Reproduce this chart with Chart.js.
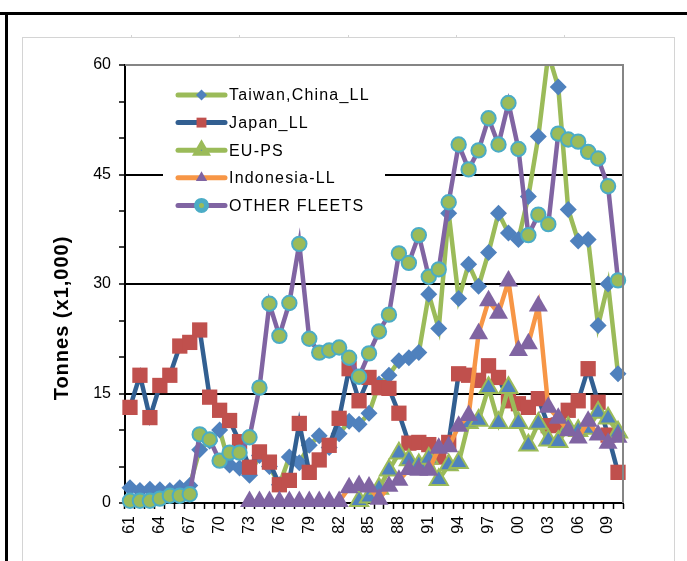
<!DOCTYPE html>
<html><head><meta charset="utf-8">
<script src="https://cdn.jsdelivr.net/npm/chart.js@4.4.1/dist/chart.umd.min.js"></script>
<style>
html,body{margin:0;padding:0;background:#fff;}
#wrap{position:relative;width:687px;height:561px;overflow:hidden;background:#fff;}
#c{position:absolute;left:0;top:0;}
.hl{position:absolute;left:0;top:12px;width:687px;height:3px;background:#000;}
.vl{position:absolute;left:5px;top:12px;width:3px;height:549px;background:#000;}
.box{position:absolute;left:22px;top:37px;width:651px;height:600px;border:1px solid #d4d4d4;}
.tk{position:absolute;top:35px;width:1px;height:2px;background:#d4d4d4;}
</style></head>
<body>
<div id="wrap">
<div class="box"></div>
<div class="tk" style="left:131px"></div><div class="tk" style="left:239px"></div><div class="tk" style="left:348px"></div><div class="tk" style="left:456px"></div><div class="tk" style="left:564px"></div>
<canvas id="c" width="687" height="561"></canvas>
<div class="hl"></div><div class="vl"></div>
</div>
<script>
const years = ['61','62','63','64','65','66','67','68','69','70',
'71','72','73','74','75','76','77','78','79','80',
'81','82','83','84','85','86','87','88','89','90',
'91','92','93','94','95','96','97','98','99','00',
'01','02','03','04','05','06','07','08','09','10'];
const tickLabels = ['61','64','67','70','73','76','79','82','85','88','91','94','97','00','03','06','09'];
const yTickLabels = [0,15,30,45,60];

const taiwanLL = [2.1,1.7,1.9,1.8,1.7,2.1,2.4,7.3,8.5,10.0,
5.2,4.8,3.8,6.5,5.0,2.5,6.3,5.5,7.9,9.2,
7.6,9.5,11.2,10.8,12.3,16.3,17.5,19.5,19.9,20.6,
28.6,23.9,39.7,28.0,32.7,29.7,34.3,39.7,37.0,36.1,
42.0,50.2,61.5,57.0,40.2,35.9,36.1,24.3,30.0,17.7];
const japanLL = [13.1,17.5,11.7,16.1,17.5,21.5,22.0,23.7,14.5,12.7,
11.3,8.4,4.9,7.0,5.6,2.5,3.1,10.9,4.2,5.9,
7.9,11.6,18.4,14.0,17.2,15.8,15.7,12.3,8.2,8.3,
8.0,6.3,8.3,17.7,17.5,16.8,18.8,17.2,14.0,13.6,
13.1,14.3,10.6,10.7,12.7,14.0,18.4,13.8,9.3,4.2];
const euPS = [null,null,null,null,null,null,null,null,null,null,
null,null,null,null,null,null,null,null,null,null,
null,null,null,0.3,0.8,2.0,4.5,6.8,5.9,5.2,
6.1,3.2,5.2,5.5,11.0,11.3,15.8,11.0,15.8,11.0,
7.9,10.9,8.6,8.4,10.3,9.9,10.2,12.4,11.6,9.7];
const indonesiaLL = [null,null,null,null,null,null,null,null,null,null,
null,null,0.2,0.2,0.2,0.2,0.2,0.2,0.2,0.2,
0.2,0.2,2.1,2.4,2.2,0.5,2.3,3.1,4.6,4.5,
4.5,7.5,7.7,10.5,12.0,23.2,27.7,26.0,30.4,20.9,
21.8,27.0,13.1,11.6,9.9,8.9,11.2,9.3,8.2,9.0];
const otherFleets = [0.3,0.3,0.3,0.6,1.0,1.0,1.2,9.4,8.7,5.8,
6.9,6.9,9.0,15.8,27.3,22.9,27.4,35.5,22.5,20.6,
20.9,21.3,19.9,17.3,20.5,23.5,25.8,34.2,32.9,36.7,
31.0,32.0,41.2,49.1,45.7,48.3,52.7,49.1,54.8,48.5,
36.7,39.5,38.2,50.6,49.8,49.5,48.1,47.2,43.4,30.5];

const BLUE='#4F81BD', RED='#C0504D', GREEN='#9BBB59', PURPLE='#8064A2', AQUA='#4BACC6', ORANGE='#F79646', NAVY='#325F91';
const FONT = '"Liberation Sans", Arial, sans-serif';

const series = [
 {label:'Taiwan,China_LL', data:taiwanLL, line:GREEN, style:'rectRot', fill:BLUE, border:BLUE, bw:0, r:8.5, lr:5.5, order:5},
 {label:'Japan_LL', data:japanLL, line:NAVY, style:'rect', fill:RED, border:RED, bw:0, r:10.8, lr:7, order:4},
 {label:'EU-PS', data:euPS, line:GREEN, style:'triangle', fill:BLUE, border:GREEN, bw:2, r:10.5, lr:6, order:3},
 {label:'Indonesia-LL', data:indonesiaLL, line:ORANGE, style:'triangle', fill:PURPLE, border:PURPLE, bw:0, r:11, lr:6.5, order:2},
 {label:'OTHER FLEETS', data:otherFleets, line:PURPLE, style:'circle', fill:GREEN, border:AQUA, bw:2, r:7.2, lr:5, order:1}
];

const datasets = series.map(s => ({
  label:s.label, data:s.data, borderColor:s.line, borderWidth:4.5,
  backgroundColor:s.fill, pointStyle:s.style, pointRadius:s.r, pointHoverRadius:s.r,
  pointBackgroundColor:s.fill, pointBorderColor:s.border, pointBorderWidth:s.bw,
  tension:0, spanGaps:false, order:s.order,
  clip: s.label==='Taiwan,China_LL' ? {left:false, top:0, right:false, bottom:false} : false
}));

const decor = {
  id:'decor',
  afterDatasetsDraw(chart){
    const ctx = chart.ctx, a = chart.chartArea;
    ctx.save();
    ctx.strokeStyle = '#858585'; ctx.lineWidth = 2;
    ctx.beginPath(); ctx.moveTo(a.left, a.top); ctx.lineTo(a.right, a.top); ctx.lineTo(a.right, a.bottom); ctx.stroke();
    // legend
    ctx.fillStyle = '#fff';
    ctx.fillRect(163, 80, 222, 139);
    const x0 = 178, x1 = 225, xm = 201.5;
    series.forEach((s, i) => {
      const y = 95 + i * 27.6;
      ctx.strokeStyle = s.line; ctx.lineWidth = 5; ctx.lineCap = 'round';
      ctx.beginPath(); ctx.moveTo(x0, y); ctx.lineTo(x1, y); ctx.stroke();
      ctx.fillStyle = s.fill; ctx.strokeStyle = s.border;
      Chart.helpers.drawPoint(ctx, {pointStyle:s.style, radius:s.lr, rotation:0, borderWidth:s.bw}, xm, y);
      ctx.fillStyle = '#000';
      ctx.font = '16px ' + FONT;
      ctx.letterSpacing = '1.2px';
      ctx.textAlign = 'left'; ctx.textBaseline = 'middle';
      ctx.fillText(s.label, 229, y + 1);
      ctx.letterSpacing = '0px';
    });
    // y title
    ctx.save();
    ctx.translate(62, 318); ctx.rotate(-Math.PI/2);
    ctx.fillStyle = '#000'; ctx.font = 'bold 20px ' + FONT;
    ctx.letterSpacing = '1px';
    ctx.textAlign = 'center'; ctx.textBaseline = 'middle';
    ctx.fillText('Tonnes (x1,000)', 0, 0);
    ctx.letterSpacing = '0px';
    ctx.restore();
    ctx.restore();
  }
};

new Chart(document.getElementById('c'), {
  type:'line',
  data:{labels:years, datasets},
  options:{
    responsive:false, animation:false, devicePixelRatio:1,
    layout:{padding:{left:0, top:65, right:64, bottom:0}},
    plugins:{legend:{display:false}, tooltip:{enabled:false}},
    scales:{
      x:{
        type:'category', offset:true,
        grid:{offset:true, drawOnChartArea:false, drawTicks:true, tickLength:6, tickColor:'#000', tickWidth:1.5, color:'#000'},
        border:{display:true, color:'#000', width:2},
        ticks:{autoSkip:false, maxRotation:90, minRotation:90, padding:7, color:'#000',
          font:{family:FONT, size:16},
          callback:function(v, i){ const l = years[i]; return tickLabels.includes(l) ? l : ''; }},
        afterFit(scale){ scale.height = 58; }
      },
      y:{
        min:0, max:60,
        grid:{drawTicks:true, tickLength:6, tickColor:'#000', tickWidth:1.5,
          color:(c)=>{ const v=c.tick.value; return (v===15||v===30||v===45)?'#000':(v===60?'#858585':'rgba(0,0,0,0)'); },
          lineWidth:2},
        border:{display:true, color:'#000', width:2},
        ticks:{stepSize:5, padding:8, color:'#000',
          font:{family:FONT, size:16},
          callback:(v)=> yTickLabels.includes(v) ? String(v) : ''},
        afterFit(scale){ scale.width = 125; }
      }
    }
  },
  plugins:[decor]
});
</script>
</body></html>
